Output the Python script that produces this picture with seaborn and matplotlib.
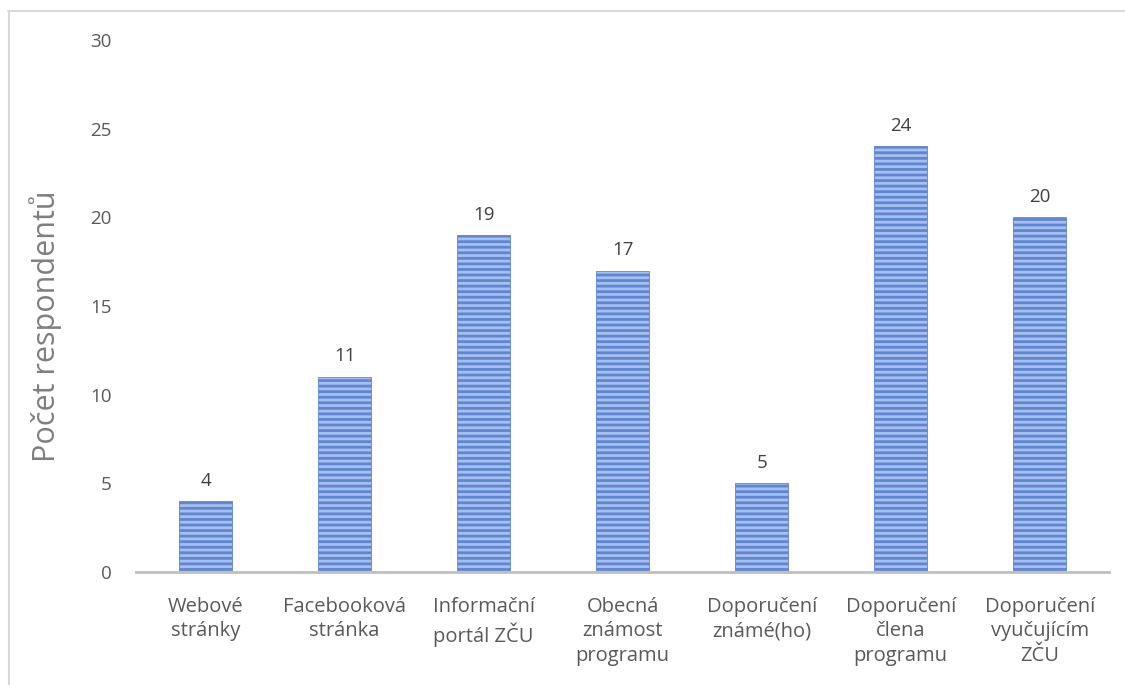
import matplotlib
matplotlib.use("Agg")
import matplotlib.pyplot as plt
import seaborn as sns
import pandas as pd
from matplotlib.lines import Line2D

categories = [
    "Webové\nstránky",
    "Facebooková\nstránka",
    "Informační\nportál ZČU",
    "Obecná\nznámost\nprogramu",
    "Doporučení\nznámé(ho)",
    "Doporučení\nčlena\nprogramu",
    "Doporučení\nvyučujícím\nZČU",
]
counts = [4, 11, 19, 17, 5, 24, 20]
y_ticks = [0, 5, 10, 15, 20, 25, 30]

sns.set_theme(style="white")
plt.rcParams["font.family"] = ["Open Sans", "DejaVu Sans"]
plt.rcParams["hatch.color"] = "#4472c4"
plt.rcParams["hatch.linewidth"] = 2.0

text_color = "#595959"

df = pd.DataFrame({"kategorie": categories, "pocet": counts})

fig = plt.figure(figsize=(11.25, 6.85), dpi=100)
ax = fig.add_axes([0.121, 0.165, 0.865, 0.7766])

sns.barplot(data=df, x="kategorie", y="pocet", ax=ax, color="#a6bfee",
            width=0.38, saturation=1)
for bar in ax.patches:
    bar.set_hatch("---")
    bar.set_edgecolor("#5f86d2")
    bar.set_linewidth(0.6)

for bar, v in zip(ax.patches, counts):
    ax.text(bar.get_x() + bar.get_width() / 2, v + 0.65, str(v),
            ha="center", va="bottom", fontsize=13.5, color="#404040")

ax.set_ylim(0, 30)
ax.set_xlim(-0.5, 6.5)
ax.set_yticks(y_ticks)
ax.set_yticklabels([str(t) for t in y_ticks], fontsize=13.5, color=text_color)
ax.tick_params(axis="y", length=0, pad=17.5)
ax.tick_params(axis="x", length=0, pad=18)
for lab in ax.get_xticklabels():
    lab.set_fontsize(14.5)
    lab.set_color(text_color)
    lab.set_linespacing(1.3)
ax.set_xlabel("")
ax.set_ylabel("Počet respondentů", fontsize=22, color="#7f7f7f")
ax.yaxis.label.set_va("center")
ax.yaxis.set_label_coords(-0.0935, 0.4624)

for side in ["top", "right", "left"]:
    ax.spines[side].set_visible(False)
ax.spines["bottom"].set_color("#bfbfbf")
ax.spines["bottom"].set_linewidth(2)

# light frame around the chart area
fig.add_artist(Line2D([8 / 1125, 1.0], [1 - 10.5 / 685, 1 - 10.5 / 685],
                      transform=fig.transFigure, color="#d9d9d9", lw=1.5))
fig.add_artist(Line2D([8.5 / 1125, 8.5 / 1125], [0.0, 1 - 10.5 / 685],
                      transform=fig.transFigure, color="#d9d9d9", lw=1.5))

fig.savefig("out.png", dpi=100)
